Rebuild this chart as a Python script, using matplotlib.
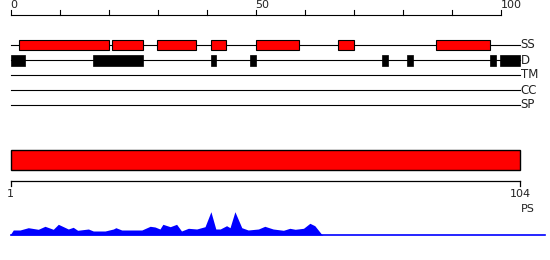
import numpy as np
import matplotlib
matplotlib.use("Agg")
import matplotlib.pyplot as plt
from matplotlib.patches import Rectangle

# === DATA ===
SEQ_LEN = 104

# secondary structure segments (start, end) in residues
ss_start = [1.8, 20.8, 29.9, 41.0, 50.0, 66.9, 86.9]
ss_end = [20.0, 27.0, 37.9, 43.9, 58.9, 70.0, 97.9]

# disorder segments
dis_start = [0.0, 16.8, 41.0, 48.9, 75.8, 80.9, 97.9, 99.9]
dis_end = [2.9, 27.0, 41.9, 50.0, 77.0, 82.1, 99.0, 104.0]

track_names = ["SS", "D", "TM", "CC", "SP"]

# profile (residue position, score)
prof_pos = [-0.1, 0.57, 1.94, 3.63, 5.67, 7.04, 8.73, 9.76, 11.8, 12.8, 13.7,
            15.9, 16.9, 19.3, 21.0, 21.5, 22.7, 26.8, 28.5, 29.5, 30.5, 31.1,
            32.6, 33.9, 34.9, 36.3, 38.0, 39.7, 40.9, 41.9, 42.8, 44.1, 44.8,
            45.8, 47.2, 48.5, 50.6, 51.9, 53.6, 55.7, 57.0, 58.1, 59.8, 61.1,
            62.1, 63.5, 63.8]
prof_val = [0, 5, 5, 7.3, 5.7, 8.7, 5.7, 10.7, 6, 7.7, 4.7,
            6, 4, 4, 6, 7.3, 5, 5, 8.7, 8, 6, 10.7,
            8.3, 10.7, 4, 6.7, 6, 8.3, 23.3, 6, 6, 9.3, 7.3,
            23.3, 7.3, 5, 6, 8.7, 6, 4.7, 6.7, 5.7, 6.7, 11.7,
            9.3, 0.7, 0]
prof_end = 109.1

# === PLOT ===
fig = plt.figure(figsize=(5.5, 2.6), dpi=100)
ax = fig.add_axes([0, 0, 1, 1])
ax.set_xlim(-10.5 / 4.9, 539.5 / 4.9)
ax.set_ylim(260, 0)
ax.axis("off")

txt = dict(fontsize=8, color="#222222", family="DejaVu Sans")

# top ruler
ax.plot([0, 100], [15, 15], color="black", lw=0.8)
for t in range(0, 101, 10):
    ax.plot([t, t], [10, 15], color="black", lw=0.8)
for t in [0, 50, 100]:
    ax.text(t, 10.5, str(t), ha="left", va="bottom", **txt)

# tracks
rows = [45, 60, 75, 90, 105]
for name, y in zip(track_names, rows):
    ax.plot([0, SEQ_LEN], [y, y], color="black", lw=0.8, zorder=1)
    ax.text(SEQ_LEN + 0.1, y, name, ha="left", va="center", fontsize=8.5, color="#222222")

for s, e in zip(ss_start, ss_end):
    ax.add_patch(Rectangle((s, 40), e - s, 10, facecolor="red", edgecolor="black", lw=0.8, zorder=2))
for s, e in zip(dis_start, dis_end):
    ax.add_patch(Rectangle((s, 55), e - s, 11, facecolor="black", edgecolor="black", lw=0.5, zorder=2))

# PS bar
ax.add_patch(Rectangle((0, 150), SEQ_LEN, 20, facecolor="red", edgecolor="black", lw=1.0))
ax.plot([0, SEQ_LEN], [181, 181], color="black", lw=0.9)
ax.plot([0, 0], [181, 186], color="black", lw=0.9)
ax.plot([SEQ_LEN, SEQ_LEN], [181, 186], color="black", lw=0.9)
ax.text(0, 189, "1", ha="center", va="top", **txt)
ax.text(SEQ_LEN, 189, str(SEQ_LEN), ha="center", va="top", **txt)
ax.text(SEQ_LEN + 1.5, 204, "PS", ha="center", va="top", **txt)

# profile
base = 235
pp = np.array(prof_pos)
pv = np.array(prof_val)
ax.fill_between(pp, base, base - pv, color="blue", lw=0)
ax.plot([0, prof_end], [base, base], color="blue", lw=1.2)

fig.savefig("out.png", dpi=100)
